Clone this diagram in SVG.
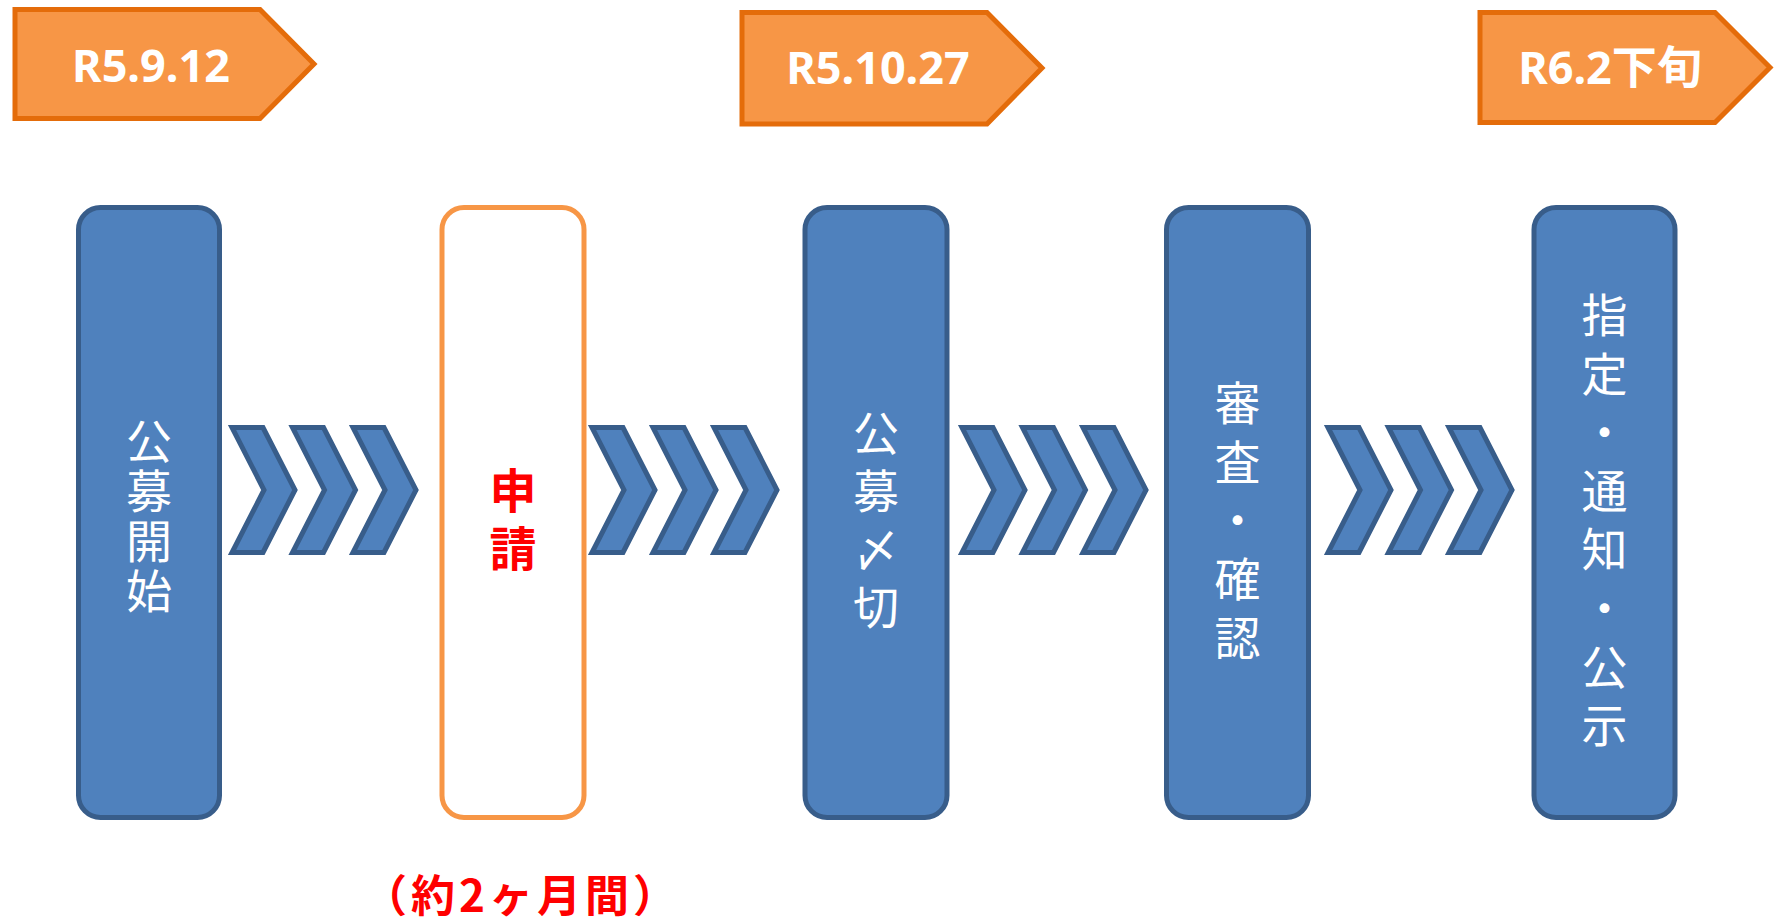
<svg xmlns="http://www.w3.org/2000/svg" xmlns:xlink="http://www.w3.org/1999/xlink" width="1776" height="922" viewBox="0 0 1776 922">
<defs>
<style>
.date{fill:#F79646;stroke:#E46C0A;stroke-width:5;stroke-linejoin:miter}
.dtxt{font-family:"Noto Sans","Noto Sans CJK JP",sans-serif;font-weight:bold;font-size:45px;fill:#FFFFFF;text-anchor:middle}
.box{fill:#4F81BD;stroke:#385D8A;stroke-width:5}
.obox{fill:#FFFFFF;stroke:#F79646;stroke-width:5}
.vt{font-family:"Noto Sans CJK JP",sans-serif;font-size:46px;fill:#FFFFFF;text-anchor:middle;dominant-baseline:central}
.rt{font-family:"Noto Sans CJK JP",sans-serif;font-weight:bold;fill:#FF0000;text-anchor:middle}
.chev{fill:#4F81BD;stroke:#385D8A;stroke-width:5;stroke-linejoin:miter}
</style>
<path id="chev" class="chev" d="M3 2.5 H34 L66 65 L34 127.5 H3 L35 65 Z"/>
</defs>
<rect width="1776" height="922" fill="#FFFFFF"/>

<g id="date1">
<polygon class="date" points="15,9.5 260,9.5 314,64 260,118.5 15,118.5"/>
<text class="dtxt" x="151" y="82">R5.9.12</text>
</g>
<g id="date2">
<polygon class="date" points="742,12.5 987,12.5 1042,68 987,124 742,124"/>
<text class="dtxt" x="878" y="84">R5.10.27</text>
</g>
<g id="date3">
<polygon class="date" points="1480,12.5 1715,12.5 1770,67.5 1715,122.5 1480,122.5"/>
<text class="dtxt" x="1610" y="84">R6.2下旬</text>
</g>

<g id="node1">
<rect class="box" x="78.5" y="207.5" width="141" height="610" rx="22" ry="22"/>
<text class="vt"><tspan x="149" y="438">公</tspan><tspan x="149" y="488">募</tspan><tspan x="149" y="538">開</tspan><tspan x="149" y="588">始</tspan></text>
</g>
<g id="node2">
<rect class="obox" x="442" y="207.5" width="142" height="610" rx="22" ry="22"/>
<text class="rt" font-size="47" dominant-baseline="central"><tspan x="513" y="487">申</tspan><tspan x="513" y="545">請</tspan></text>
</g>
<g id="node3">
<rect class="box" x="805" y="207.5" width="142" height="610" rx="22" ry="22"/>
<text class="vt"><tspan x="876" y="430">公</tspan><tspan x="876" y="488">募</tspan><tspan x="876" y="546">〆</tspan><tspan x="876" y="604">切</tspan></text>
</g>
<g id="node4">
<rect class="box" x="1166.5" y="207.5" width="142" height="610" rx="22" ry="22"/>
<text class="vt"><tspan x="1237.5" y="400">審</tspan><tspan x="1237.5" y="459">査</tspan><tspan x="1237.5" y="517">・</tspan><tspan x="1237.5" y="576">確</tspan><tspan x="1237.5" y="635">認</tspan></text>
</g>
<g id="node5">
<rect class="box" x="1534" y="207.5" width="141" height="610" rx="22" ry="22"/>
<text class="vt"><tspan x="1604.5" y="312">指</tspan><tspan x="1604.5" y="371">定</tspan><tspan x="1604.5" y="429">・</tspan><tspan x="1604.5" y="488">通</tspan><tspan x="1604.5" y="546">知</tspan><tspan x="1604.5" y="605">・</tspan><tspan x="1604.5" y="664">公</tspan><tspan x="1604.5" y="722">示</tspan></text>
</g>

<g id="connectors">
<use xlink:href="#chev" href="#chev" x="229" y="425"/>
<use xlink:href="#chev" href="#chev" x="289.5" y="425"/>
<use xlink:href="#chev" href="#chev" x="350" y="425"/>
<use xlink:href="#chev" href="#chev" x="589" y="425"/>
<use xlink:href="#chev" href="#chev" x="650" y="425"/>
<use xlink:href="#chev" href="#chev" x="711" y="425"/>
<use xlink:href="#chev" href="#chev" x="959" y="425"/>
<use xlink:href="#chev" href="#chev" x="1019.5" y="425"/>
<use xlink:href="#chev" href="#chev" x="1080" y="425"/>
<use xlink:href="#chev" href="#chev" x="1325" y="425"/>
<use xlink:href="#chev" href="#chev" x="1385.5" y="425"/>
<use xlink:href="#chev" href="#chev" x="1446" y="425"/>
</g>

<text id="duration" class="rt" font-size="44" letter-spacing="4" x="522" y="912">（約2ヶ月間）</text>
</svg>
